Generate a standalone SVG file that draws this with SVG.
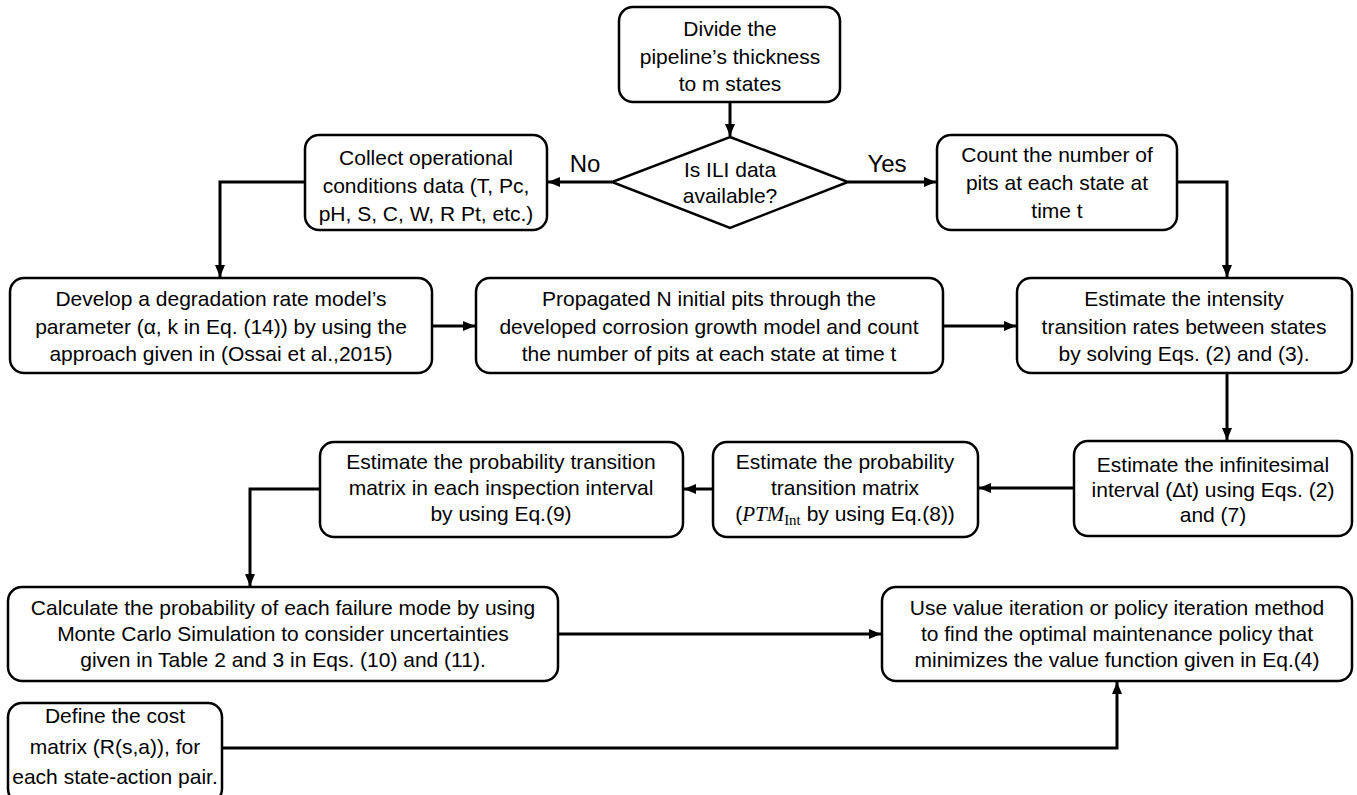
<svg xmlns="http://www.w3.org/2000/svg" width="1357" height="795" viewBox="0 0 1357 795">
<style>
.box{fill:#fff;stroke:#000;stroke-width:2.5}
.t{font-family:"Liberation Sans",Arial,sans-serif;font-size:21px;fill:#000;text-anchor:middle}
.lbl{font-family:"Liberation Sans",Arial,sans-serif;font-size:24px;fill:#000;text-anchor:middle}
.c{fill:none;stroke:#000;stroke-width:3}
.m{font-family:"Liberation Serif","Times New Roman",serif;font-style:italic}
.s{font-family:"Liberation Serif","Times New Roman",serif;font-size:15px}
</style>
<defs>
<marker id="ah" markerUnits="userSpaceOnUse" markerWidth="12" markerHeight="12" viewBox="0 0 12 12" refX="12" refY="6" orient="auto">
<path d="M0,1 L12,6 L0,11 Z" fill="#000"/>
</marker>
</defs>
<g id="connectors">
<path class="c" d="M730,102 V136" marker-end="url(#ah)"/>
<path class="c" d="M612,182 H548" marker-end="url(#ah)"/>
<path class="c" d="M848,182 H936" marker-end="url(#ah)"/>
<path class="c" d="M305,182 H220 V277" marker-end="url(#ah)"/>
<path class="c" d="M1177,182 H1227 V277" marker-end="url(#ah)"/>
<path class="c" d="M432,326 H475" marker-end="url(#ah)"/>
<path class="c" d="M943,326 H1016" marker-end="url(#ah)"/>
<path class="c" d="M1227,373 V440" marker-end="url(#ah)"/>
<path class="c" d="M1074,488 H979" marker-end="url(#ah)"/>
<path class="c" d="M713,489 H684" marker-end="url(#ah)"/>
<path class="c" d="M320,489 H250 V586" marker-end="url(#ah)"/>
<path class="c" d="M558,634 H881" marker-end="url(#ah)"/>
<path class="c" d="M222,748 H1117 V682" marker-end="url(#ah)"/>
</g>
<g id="n_divide">
<rect class="box" x="619" y="7" width="221" height="95" rx="14"/>
<text class="t" x="730" y="36">Divide the</text>
<text class="t" x="730" y="64">pipeline’s thickness</text>
<text class="t" x="730" y="91">to m states</text>
</g>
<g id="n_decision">
<polygon class="box" points="730,137 848,182 730,228 612,182"/>
<text class="t" x="730" y="177">Is ILI data</text>
<text class="t" x="730" y="203">available?</text>
</g>
<g id="lbl_no"><text class="lbl" x="585" y="172">No</text></g>
<g id="lbl_yes"><text class="lbl" x="887" y="172">Yes</text></g>
<g id="n_collect">
<rect class="box" x="305" y="135" width="242" height="95" rx="14"/>
<text class="t" x="426" y="165">Collect operational</text>
<text class="t" x="426" y="193">conditions data (T, Pc,</text>
<text class="t" x="426" y="221">pH, S, C, W, R Pt, etc.)</text>
</g>
<g id="n_count">
<rect class="box" x="937" y="135" width="240" height="95" rx="14"/>
<text class="t" x="1057" y="162">Count the number of</text>
<text class="t" x="1057" y="190">pits at each state at</text>
<text class="t" x="1057" y="218">time t</text>
</g>
<g id="n_develop">
<rect class="box" x="10" y="278" width="422" height="95" rx="14"/>
<text class="t" x="221" y="306">Develop a degradation rate model’s</text>
<text class="t" x="221" y="334">parameter (α, k in Eq. (14)) by using the</text>
<text class="t" x="221" y="361">approach given in (Ossai et al.,2015)</text>
</g>
<g id="n_propagate">
<rect class="box" x="476" y="278" width="467" height="95" rx="14"/>
<text class="t" x="709" y="306">Propagated N initial pits through the</text>
<text class="t" x="709" y="334">developed corrosion growth model and count</text>
<text class="t" x="709" y="361">the number of pits at each state at time t</text>
</g>
<g id="n_intensity">
<rect class="box" x="1017" y="278" width="335" height="95" rx="14"/>
<text class="t" x="1184" y="306">Estimate the intensity</text>
<text class="t" x="1184" y="334">transition rates between states</text>
<text class="t" x="1184" y="361">by solving Eqs. (2) and (3).</text>
</g>
<g id="n_infinitesimal">
<rect class="box" x="1074" y="441" width="278" height="95" rx="14"/>
<text class="t" x="1213" y="472">Estimate the infinitesimal</text>
<text class="t" x="1213" y="497">interval (Δt) using Eqs. (2)</text>
<text class="t" x="1213" y="522">and (7)</text>
</g>
<g id="n_ptm">
<rect class="box" x="713" y="442" width="265" height="95" rx="14"/>
<text class="t" x="845" y="469">Estimate the probability</text>
<text class="t" x="845" y="495">transition matrix</text>
<text class="t" x="845" y="521">(<tspan class="m">PTM</tspan><tspan class="s" dy="4">Int</tspan><tspan dy="-4"> by using Eq.(8))</tspan></text>
</g>
<g id="n_pmatrix">
<rect class="box" x="320" y="442" width="363" height="95" rx="14"/>
<text class="t" x="501" y="469">Estimate the probability transition</text>
<text class="t" x="501" y="495">matrix in each inspection interval</text>
<text class="t" x="501" y="521">by using Eq.(9)</text>
</g>
<g id="n_calculate">
<rect class="box" x="8" y="587" width="550" height="94" rx="14"/>
<text class="t" x="283" y="615">Calculate the probability of each failure mode by using</text>
<text class="t" x="283" y="641">Monte Carlo Simulation to consider uncertainties</text>
<text class="t" x="283" y="667">given in Table 2 and 3 in Eqs. (10) and (11).</text>
</g>
<g id="n_value">
<rect class="box" x="882" y="587" width="470" height="94" rx="14"/>
<text class="t" x="1117" y="615">Use value iteration or policy iteration method</text>
<text class="t" x="1117" y="641">to find the optimal maintenance policy that</text>
<text class="t" x="1117" y="667">minimizes the value function given in Eq.(4)</text>
</g>
<g id="n_define">
<rect class="box" x="8" y="703" width="214" height="100" rx="14"/>
<text class="t" x="115" y="723">Define the cost</text>
<text class="t" x="115" y="754">matrix (R(s,a)), for</text>
<text class="t" x="115" y="784">each state-action pair.</text>
</g>
</svg>
